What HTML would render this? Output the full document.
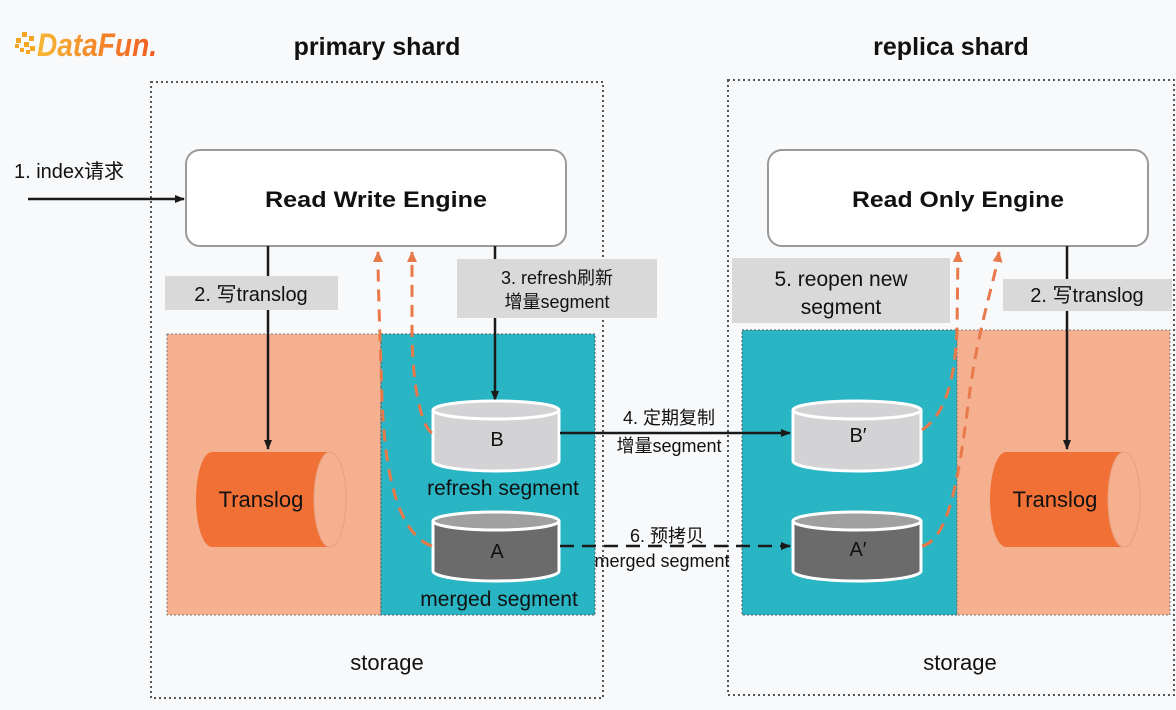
<!DOCTYPE html>
<html><head><meta charset="utf-8"><style>
html,body{margin:0;padding:0;background:#f8f9fb;}
svg{display:block;}
text{font-family:"Liberation Sans","Noto Sans CJK SC",sans-serif;fill:#111;}
</style></head><body>
<svg width="1176" height="710" viewBox="0 0 1176 710" xmlns="http://www.w3.org/2000/svg">
<defs>
<marker id="ab" markerWidth="10" markerHeight="10" refX="9" refY="5" orient="auto" markerUnits="userSpaceOnUse"><path d="M0,1 L10,5 L0,9 z" fill="#1a1a1a"/></marker>
<marker id="ao" markerWidth="12" markerHeight="12" refX="10" refY="6" orient="auto" markerUnits="userSpaceOnUse"><path d="M0,1 L11,6 L0,11 z" fill="#e8794a"/></marker>
<linearGradient id="lg" x1="0" x2="1"><stop offset="0" stop-color="#f7b733"/><stop offset="1" stop-color="#f05a22"/></linearGradient>
</defs>
<rect width="1176" height="710" fill="#f8f9fb"/>
<g fill="#f5a623">
<rect x="16" y="38" width="5" height="5"/><rect x="22" y="32" width="5" height="5"/><rect x="24" y="42" width="5" height="5"/><rect x="29" y="36" width="5" height="5"/><rect x="30" y="46" width="5" height="5"/>
<rect x="20" y="48" width="4" height="4"/><rect x="26" y="50" width="4" height="4"/><rect x="15" y="44" width="4" height="4"/>
</g>
<text x="37" y="56" font-size="32" font-style="italic" font-weight="bold" textLength="120" lengthAdjust="spacingAndGlyphs" style="fill:url(#lg)">DataFun.</text>
<text x="377" y="55" font-size="25" font-weight="bold" text-anchor="middle">primary shard</text>
<text x="951" y="55" font-size="25" font-weight="bold" text-anchor="middle">replica shard</text>
<rect x="151" y="82" width="452" height="616" fill="none" stroke="#555" stroke-width="2" stroke-dasharray="2,3"/>
<rect x="728" y="80" width="446" height="615" fill="none" stroke="#555" stroke-width="2" stroke-dasharray="2,3"/>
<rect x="167" y="334" width="214" height="281" fill="#f4b08f" stroke="#777" stroke-dasharray="2,2"/>
<rect x="381" y="334" width="214" height="281" fill="#29b5c3" stroke="#555" stroke-dasharray="2,2"/>
<rect x="742" y="330" width="215" height="285" fill="#29b5c3" stroke="#555" stroke-dasharray="2,2"/>
<rect x="957" y="330" width="213" height="285" fill="#f4b08f" stroke="#777" stroke-dasharray="2,2"/>
<rect x="186" y="150" width="380" height="96" rx="14" fill="#fff" stroke="#999" stroke-width="2"/>
<text x="376" y="207" font-size="22" font-weight="bold" text-anchor="middle" textLength="222" lengthAdjust="spacingAndGlyphs">Read Write Engine</text>
<rect x="768" y="150" width="380" height="96" rx="14" fill="#fff" stroke="#999" stroke-width="2"/>
<text x="958" y="207" font-size="22" font-weight="bold" text-anchor="middle" textLength="212" lengthAdjust="spacingAndGlyphs">Read Only Engine</text>
<text x="14" y="178" font-size="20">1. index请求</text>
<line x1="28" y1="199" x2="184" y2="199" stroke="#1a1a1a" stroke-width="2.5" marker-end="url(#ab)"/>
<line x1="268" y1="246" x2="268" y2="449" stroke="#1a1a1a" stroke-width="2.5" marker-end="url(#ab)"/>
<rect x="165" y="276" width="173" height="34" fill="#d9d9d9"/>
<text x="251" y="301" font-size="20" text-anchor="middle">2. 写translog</text>
<line x1="495" y1="246" x2="495" y2="400" stroke="#1a1a1a" stroke-width="2.5" marker-end="url(#ab)"/>
<rect x="457" y="259" width="200" height="59" fill="#d9d9d9"/>
<text x="557" y="284" font-size="18" text-anchor="middle">3. refresh刷新</text>
<text x="557" y="308" font-size="18" text-anchor="middle">增量segment</text>
<line x1="1067" y1="246" x2="1067" y2="449" stroke="#1a1a1a" stroke-width="2.5" marker-end="url(#ab)"/>
<rect x="1003" y="279" width="169" height="32" fill="#d9d9d9"/>
<text x="1087" y="302" font-size="20" text-anchor="middle">2. 写translog</text>
<rect x="732" y="258" width="218" height="65" fill="#d9d9d9"/>
<text x="841" y="286" font-size="21" text-anchor="middle">5. reopen new</text>
<text x="841" y="314" font-size="21" text-anchor="middle">segment</text>
<g>
<path d="M212,452 L330,452 L330,547 L212,547 A16,47.5 0 0 1 212,452 z" fill="#f07035"/>
<ellipse cx="330" cy="499.5" rx="16" ry="47.5" fill="#f4b08f" stroke="#e8a080"/>
<text x="261" y="507" font-size="22" text-anchor="middle">Translog</text>
<path d="M1006,452 L1124,452 L1124,547 L1006,547 A16,47.5 0 0 1 1006,452 z" fill="#f07035"/>
<ellipse cx="1124" cy="499.5" rx="16" ry="47.5" fill="#f4b08f" stroke="#e8a080"/>
<text x="1055" y="507" font-size="22" text-anchor="middle">Translog</text>
</g>
<g stroke="#fff" stroke-width="3">
<path d="M433,410 L433,461 A63,10 0 0 0 559,461 L559,410" fill="#d3d3d6"/>
<ellipse cx="496" cy="410" rx="63" ry="9" fill="#d3d3d6"/>
<path d="M433,521 L433,571 A63,10 0 0 0 559,571 L559,521" fill="#6b6b6b"/>
<ellipse cx="496" cy="521" rx="63" ry="9" fill="#a0a0a0"/>
<path d="M793,410 L793,461 A64,10 0 0 0 921,461 L921,410" fill="#d3d3d6"/>
<ellipse cx="857" cy="410" rx="64" ry="9" fill="#d3d3d6"/>
<path d="M793,521 L793,571 A64,10 0 0 0 921,571 L921,521" fill="#6b6b6b"/>
<ellipse cx="857" cy="521" rx="64" ry="9" fill="#a0a0a0"/>
</g>
<text x="497" y="446" font-size="20" text-anchor="middle">B</text>
<text x="497" y="558" font-size="20" text-anchor="middle">A</text>
<text x="858" y="442" font-size="20" text-anchor="middle">B′</text>
<text x="858" y="556" font-size="20" text-anchor="middle">A′</text>
<text x="503" y="495" font-size="21" text-anchor="middle">refresh segment</text>
<text x="499" y="606" font-size="21" text-anchor="middle">merged segment</text>
<line x1="560" y1="433" x2="790" y2="433" stroke="#1a1a1a" stroke-width="2.5" marker-end="url(#ab)"/>
<text x="669" y="424" font-size="18" text-anchor="middle">4. 定期复制</text>
<text x="669" y="452" font-size="18" text-anchor="middle">增量segment</text>
<line x1="560" y1="546" x2="790" y2="546" stroke="#1a1a1a" stroke-width="2.5" stroke-dasharray="14,8" marker-end="url(#ab)"/>
<text x="667" y="542" font-size="18" text-anchor="middle">6. 预拷贝</text>
<text x="662" y="567" font-size="18" text-anchor="middle">merged segment</text>
<g fill="none" stroke="#e8794a" stroke-width="3" stroke-dasharray="12,8">
<path d="M432,546 C400,535 385,480 382,400 C380,330 378,290 378,252" marker-end="url(#ao)"/>
<path d="M432,433 C420,425 412,380 412,330 L412,252" marker-end="url(#ao)"/>
<path d="M922,430 C945,415 955,380 957,330 L958,252" marker-end="url(#ao)"/>
<path d="M922,546 C950,540 960,470 970,390 C980,320 995,280 999,252" marker-end="url(#ao)"/>
</g>
<text x="387" y="670" font-size="22" text-anchor="middle">storage</text>
<text x="960" y="670" font-size="22" text-anchor="middle">storage</text>
</svg>
</body></html>
